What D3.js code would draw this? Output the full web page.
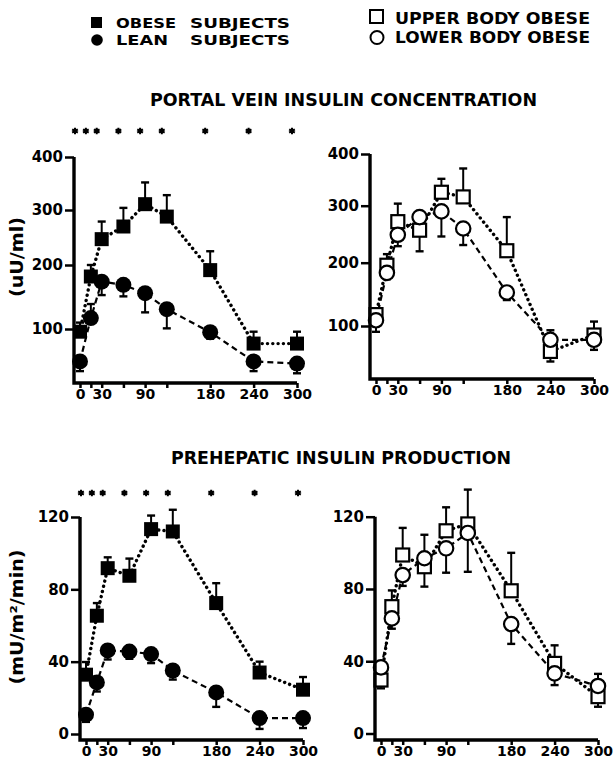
<!DOCTYPE html>
<html><head><meta charset="utf-8">
<script src="https://cdn.jsdelivr.net/npm/d3@7"></script>
<style>
body{margin:0;background:#fff}
text{font-family:"DejaVu Sans","Liberation Sans",Arial,sans-serif;font-weight:bold;fill:#000}
</style>
</head><body><svg id="c" width="616" height="772"></svg>
<script>
// ---------- data ----------
const times = [0,15,30,60,90,120,180,240,300];
const labeledTimes = [0,30,90,180,240,300];
const starTimes = [0,15,30,60,90,120,180,240,300];
const portalTicks = [100,200,300,400];
const prodTicks = [0,40,80,120];

const portalObese   = [95,182,247,270,311,288,192,73,73];
const portalObeseSE = [15,18,32,34,41,40,33,22,22];
const portalLean    = [40,117,174,169,156,131,94,40,36];
const portalLeanSE  = [-18,22,-21,-18,-30,-30,-12,-18,-18];
const portalUpper   = [118,196,272,257,326,317,221,52,83];
const portalUpperSE = [10,19,32,-37,26,55,59,-19,24];
const portalLower   = [109,184,249,280,290,260,153,74,74];
const portalLowerSE = [-20,-10,-20,-10,-44,-29,-12,18,-19];

const prodObese   = [32.8,65.4,91.7,87.5,113.3,112,72.4,34,24.5];
const prodObeseSE = [7,7,6,9.5,7.5,12,11,6,7];
const prodLean    = [10.7,28.5,46.2,45.6,44.2,35.1,23,8.8,8.8];
const prodLeanSE  = [-4,-5,-5,-4,-5,-5,-8,-6,-5.5];
const prodUpper   = [29.6,70.2,98.8,92.3,112.2,116,79,38.8,20.4];
const prodUpperSE = [-4.6,9,15,-11,13,19,21,10,-5.6];
const prodLower   = [36.6,63.7,87.7,97,102.5,111,60.6,33.3,26.3];
const prodLowerSE = [-3,-5.7,-6,13,-13.5,-21.5,-11,-6.5,6.7];

const legendLeft  = [["OBESE","SUBJECTS"],["LEAN","SUBJECTS"]];
const legendRight = ["UPPER BODY OBESE","LOWER BODY OBESE"];
const titleTop = "PORTAL VEIN INSULIN CONCENTRATION";
const titleBottom = "PREHEPATIC INSULIN PRODUCTION";
const yLabelTop = "(uU/ml)";
const yLabelBottom = "(mU/m²/min)";

// ---------- drawing ----------
const svg = d3.select("#c");

function drawPanel(p){
  const g = svg.append("g");
  const x = d3.scaleLinear().domain([0,300]).range(p.xr);
  const y = p.y;
  // error bars
  p.series.forEach(s=>{
    s.vals.forEach((v,i)=>{
      const se = s.se[i];
      if(!se) return;
      const cx = x(times[i]), y1 = y(v), y2 = y(v+se);
      g.append("line").attr("x1",cx).attr("x2",cx).attr("y1",y1).attr("y2",y2)
        .attr("stroke","#000").attr("stroke-width",2);
      g.append("line").attr("x1",cx-4).attr("x2",cx+4).attr("y1",y2).attr("y2",y2)
        .attr("stroke","#000").attr("stroke-width",2.4);
    });
  });
  // lines
  const line = d3.line().x((d,i)=>x(times[i])).y(d=>y(d));
  p.series.forEach(s=>{
    const path = g.append("path").attr("d",line(s.vals)).attr("fill","none").attr("stroke","#000");
    if(s.dotted) path.attr("stroke-width",3.4).attr("stroke-dasharray","0.1,5.2").attr("stroke-linecap","round");
    else path.attr("stroke-width",2.2).attr("stroke-dasharray","6,4");
  });
  // markers
  p.series.forEach(s=>{
    s.vals.forEach((v,i)=>{
      const cx = x(times[i]), cy = y(v);
      if(s.shape==="sq"){
        const a = s.filled?14:13;
        g.append("rect").attr("x",cx-a/2).attr("y",cy-a/2).attr("width",a).attr("height",a)
          .attr("fill",s.filled?"#000":"#fff").attr("stroke","#000").attr("stroke-width",s.filled?0:2.2);
      } else {
        g.append("circle").attr("cx",cx).attr("cy",cy).attr("r",s.filled?8:7.2)
          .attr("fill",s.filled?"#000":"#fff").attr("stroke","#000").attr("stroke-width",s.filled?0:2.2);
      }
    });
  });
  // axes
  const ya = g.append("g").attr("transform",`translate(${p.ax},0)`)
    .call(d3.axisLeft(y).tickValues(p.yTicks).tickSize(9).tickPadding(2));
  ya.select(".domain").remove();
  ya.selectAll("line").attr("stroke-width",2.5);
  ya.selectAll("text").style("font-size","15px").attr("fill","#000");
  const xa = g.append("g").attr("transform",`translate(0,${p.ay})`)
    .call(d3.axisBottom(x).tickValues(times).tickSize(5).tickPadding(1)
      .tickFormat(d=>labeledTimes.includes(d)?d:""));
  xa.select(".domain").remove();
  xa.selectAll("line").attr("stroke-width",2.5);
  xa.selectAll("text").style("font-size","14px").attr("fill","#000");
  g.append("path").attr("d",`M${p.ax},${y(p.yTicks[p.yTicks.length-1])}V${p.ay}H${x(300)}`)
    .attr("fill","none").attr("stroke","#000").attr("stroke-width",3.4).attr("stroke-linejoin","miter");
  // significance stars
  if(p.starsY){
    const sym = d3.symbol().type(d3.symbolAsterisk||d3.symbolStar).size(30);
    starTimes.forEach(t=>{
      const sg = g.append("g").attr("transform",`translate(${x(t)-5},${p.starsY})`);
      sg.append("circle").attr("r",2.4).attr("fill","#000");
      sg.append("path").attr("d",sym()).attr("stroke","#000").attr("stroke-width",2).attr("fill","#000");
    });
  }
}

drawPanel({
  xr:[80,297], ax:74, ay:383, yTicks:portalTicks, starsY:131,
  y:d3.scaleLinear().domain([0,100,200,300,400]).range([383,329,265,210,157]),
  series:[
    {vals:portalLean, se:portalLeanSE, shape:"ci", filled:true, dotted:false},
    {vals:portalObese, se:portalObeseSE, shape:"sq", filled:true, dotted:true}
  ]
});
drawPanel({
  xr:[376,594], ax:370, ay:379, yTicks:portalTicks,
  y:d3.scaleLinear().domain([0,100,200,300,400]).range([379,326,262.7,205.7,154]),
  series:[
    {vals:portalUpper, se:portalUpperSE, shape:"sq", filled:false, dotted:true},
    {vals:portalLower, se:portalLowerSE, shape:"ci", filled:false, dotted:false}
  ]
});
drawPanel({
  xr:[86,303], ax:80, ay:740, yTicks:prodTicks, starsY:493,
  y:d3.scaleLinear().domain([0,120]).range([734,517]),
  series:[
    {vals:prodLean, se:prodLeanSE, shape:"ci", filled:true, dotted:false},
    {vals:prodObese, se:prodObeseSE, shape:"sq", filled:true, dotted:true}
  ]
});
drawPanel({
  xr:[381,598], ax:375, ay:740, yTicks:prodTicks,
  y:d3.scaleLinear().domain([0,120]).range([733.5,516.7]),
  series:[
    {vals:prodUpper, se:prodUpperSE, shape:"sq", filled:false, dotted:true},
    {vals:prodLower, se:prodLowerSE, shape:"ci", filled:false, dotted:false}
  ]
});

// titles
svg.append("text").attr("x",150).attr("y",106).attr("textLength",387).attr("lengthAdjust","spacingAndGlyphs")
  .style("font-size","17px").text(titleTop);
svg.append("text").attr("x",171).attr("y",464).attr("textLength",340).attr("lengthAdjust","spacingAndGlyphs")
  .style("font-size","17px").text(titleBottom);

// y labels
svg.append("text").attr("transform","translate(23,257) rotate(-90)").attr("text-anchor","middle")
  .attr("textLength",80).attr("lengthAdjust","spacingAndGlyphs")
  .style("font-size","17px").text(yLabelTop);
svg.append("text").attr("transform","translate(23,617) rotate(-90)").attr("text-anchor","middle")
  .attr("textLength",135).attr("lengthAdjust","spacingAndGlyphs")
  .style("font-size","17px").text(yLabelBottom);

// legend
svg.append("rect").attr("x",91).attr("y",17).attr("width",11).attr("height",11).attr("fill","#000");
svg.append("circle").attr("cx",97).attr("cy",40).attr("r",5.8).attr("fill","#000");
legendLeft.forEach((r,i)=>{
  const yy = [28,45][i];
  svg.append("text").attr("x",116).attr("y",yy).attr("textLength",[60,52][i]).attr("lengthAdjust","spacingAndGlyphs")
    .style("font-size","14px").text(r[0]);
  svg.append("text").attr("x",190).attr("y",yy).attr("textLength",100).attr("lengthAdjust","spacingAndGlyphs")
    .style("font-size","14px").text(r[1]);
});
svg.append("rect").attr("x",370).attr("y",10).attr("width",13).attr("height",13)
  .attr("fill","#fff").attr("stroke","#000").attr("stroke-width",2);
svg.append("circle").attr("cx",377).attr("cy",37.5).attr("r",6.5)
  .attr("fill","#fff").attr("stroke","#000").attr("stroke-width",2);
legendRight.forEach((t,i)=>{
  svg.append("text").attr("x",395).attr("y",[24,43][i]).attr("textLength",195).attr("lengthAdjust","spacingAndGlyphs")
    .style("font-size","15px").text(t);
});
</script>
</body></html>
